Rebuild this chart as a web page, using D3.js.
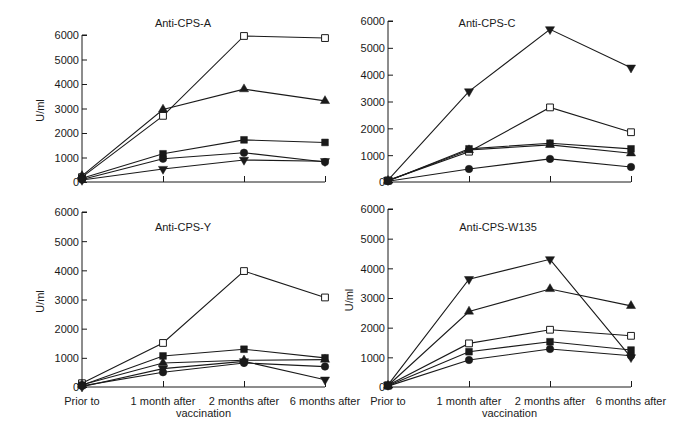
<!DOCTYPE html>
<html><head><meta charset="utf-8">
<script src="https://cdn.jsdelivr.net/npm/d3@7"></script>
<style>body{margin:0;background:#fff}text{font-family:"Liberation Sans",Arial,sans-serif;fill:#1a1a1a}</style>
</head><body><svg id="c" width="692" height="431"></svg>
<script>
const categories = ["Prior to", "1 month after", "2 months after", "6 months after"];
const yTicks = [0, 1000, 2000, 3000, 4000, 5000, 6000];
const seriesMarkers = ["openSquare", "triangleUp", "filledSquare", "circle", "triangleDown"];
const panelTitles = ["Anti-CPS-A", "Anti-CPS-C", "Anti-CPS-Y", "Anti-CPS-W135"];
// values per panel, one array per series (order of seriesMarkers)
const valuesA = [[200, 2700, 5960, 5875], [250, 2960, 3790, 3310], [150, 1150, 1720, 1615], [100, 950, 1195, 815], [80, 530, 900, 850]];
const valuesC = [[60, 1130, 2780, 1855], [50, 1190, 1385, 1070], [40, 1235, 1445, 1235], [30, 485, 860, 560], [70, 3375, 5690, 4260]];
const valuesY = [[130, 1510, 3975, 3070], [80, 825, 915, 940], [60, 1065, 1295, 1000], [40, 505, 825, 700], [10, 630, 880, 250]];
const valuesW = [[60, 1470, 1930, 1725], [50, 2545, 3305, 2735], [40, 1190, 1525, 1245], [30, 910, 1280, 1055], [70, 3635, 4305, 1000]];

const panels = [
  {title: panelTitles[0], values: valuesA, x0: 82, y0: 182, yTop: 35, titleX: 183, titleY: 27, ylab: 40, xlabels: false},
  {title: panelTitles[1], values: valuesC, x0: 388, y0: 182, yTop: 21, titleX: 487, titleY: 27, ylab: null, xlabels: false},
  {title: panelTitles[2], values: valuesY, x0: 82, y0: 387, yTop: 212, titleX: 183, titleY: 231, ylab: 40, xlabels: true},
  {title: panelTitles[3], values: valuesW, x0: 388, y0: 387, yTop: 209, titleX: 498, titleY: 231, ylab: 349, xlabels: true}
];

const svg = d3.select("#c");
const ink = "#1a1a1a";

function markerPath(type) {
  const s = d3.symbol();
  if (type === "openSquare" || type === "filledSquare") return s.type(d3.symbolSquare).size(46)();
  if (type === "circle") return s.type(d3.symbolCircle).size(44)();
  if (type === "triangleUp") return s.type(d3.symbolTriangle).size(36)();
  return s.type(d3.symbolTriangle).size(36)();
}

panels.forEach(p => {
  const g = svg.append("g");
  const x = d3.scalePoint().domain(categories).range([p.x0, p.x0 + 243]);
  const y = d3.scaleLinear().domain([0, 6000]).range([p.y0, p.yTop]);

  // y axis
  const ya = g.append("g").attr("transform", `translate(${p.x0},0)`)
    .call(d3.axisRight(y).tickValues(yTicks).tickSize(5).tickFormat(d3.format("d")));
  ya.select(".domain").attr("stroke", ink).attr("stroke-width", 1).attr("d", `M5,${p.yTop}H0V${p.y0}`);
  ya.selectAll(".tick line").attr("stroke", ink);
  ya.selectAll(".tick text").attr("x", -3).attr("text-anchor", "end").attr("font-size", 11)
    .attr("dy", "0.36em").attr("fill", ink);

  // x axis
  const xa = g.append("g").attr("transform", `translate(0,${p.y0})`)
    .call(d3.axisTop(x).tickSize(6).tickFormat(""));
  xa.select(".domain").attr("stroke", ink).attr("d", `M${p.x0},0H${p.x0 + 243}`);
  xa.selectAll(".tick line").attr("stroke", ink);
  xa.selectAll(".tick").filter(d => d === categories[0]).remove();

  if (p.xlabels) {
    g.selectAll(".xl").data(categories).join("text")
      .attr("x", d => x(d)).attr("y", p.y0 + 18).attr("text-anchor", "middle")
      .attr("font-size", 11).text(d => d);
    g.append("text").attr("x", (x(categories[1]) + x(categories[2])) / 2).attr("y", p.y0 + 30)
      .attr("text-anchor", "middle").attr("font-size", 11).text("vaccination");
  }

  g.append("text").attr("x", p.titleX).attr("y", p.titleY).attr("text-anchor", "middle")
    .attr("font-size", 11).text(p.title);

  if (p.ylab !== null) {
    g.append("text").attr("transform", `translate(${p.ylab + 4},${(p.y0 + p.yTop) / 2 + 2}) rotate(-90)`)
      .attr("text-anchor", "middle").attr("font-size", 11).text("U/ml");
  }

  const line = d3.line().x((d, i) => x(categories[i])).y(d => y(d));
  p.values.forEach((vals, si) => {
    g.append("path").attr("d", line(vals)).attr("fill", "none").attr("stroke", ink).attr("stroke-width", 1.1);
  });
  p.values.forEach((vals, si) => {
    const type = seriesMarkers[si];
    g.selectAll(null).data(vals).join("path")
      .attr("d", markerPath(type))
      .attr("transform", (d, i) => `translate(${x(categories[i])},${y(d)})${type === "triangleDown" ? " rotate(180)" : ""}`)
      .attr("fill", type === "openSquare" ? "#fff" : ink)
      .attr("stroke", ink).attr("stroke-width", type === "openSquare" ? 1 : 0.5);
  });
});
</script></body></html>
